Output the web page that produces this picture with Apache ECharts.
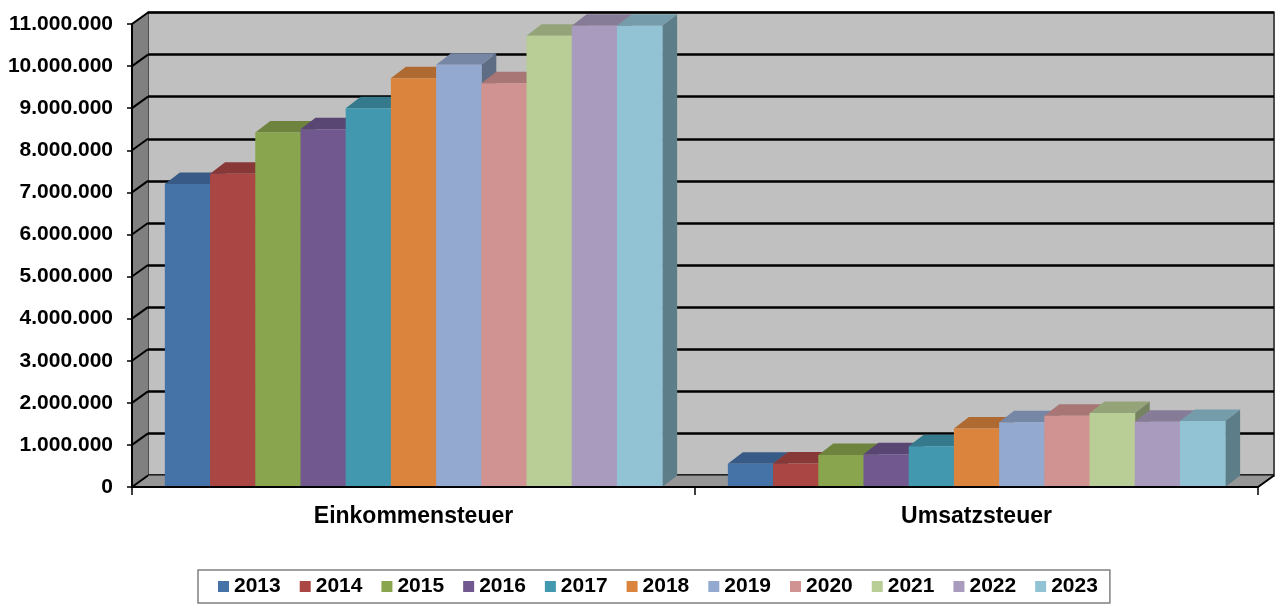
<!DOCTYPE html>
<html>
<head>
<meta charset="utf-8">
<script src="https://cdn.jsdelivr.net/npm/echarts@6/dist/echarts.min.js"></script>
<style>
html, body { margin: 0; padding: 0; background: #fff; }
#chart { width: 1275px; height: 608px; }
</style>
</head>
<body>
<div id="chart"></div>
<script>
// Daten
var categories = ['Einkommensteuer', 'Umsatzsteuer'];
var years = ['2013', '2014', '2015', '2016', '2017', '2018', '2019', '2020', '2021', '2022', '2023'];
var einkommensteuer = [7200000, 7440000, 8420000, 8500000, 9000000, 9710000, 10030000, 9590000, 10720000, 10960000, 10960000];
var umsatzsteuer = [550000, 560000, 760000, 780000, 970000, 1390000, 1540000, 1690000, 1760000, 1550000, 1570000];
var yTicks = [0, 1000000, 2000000, 3000000, 4000000, 5000000, 6000000, 7000000, 8000000, 9000000, 10000000, 11000000];

var colors = ['#4572A7', '#AA4643', '#89A54E', '#71588F', '#4198AF', '#DB843D',
              '#93A9CF', '#D19392', '#B9CD96', '#A99BBD', '#92C3D4'];

var FONT = 'Arial, "Liberation Sans", sans-serif';
// Tiefe der Wände / Säulen
var DX = 16, DY = -11.5;
var BDX = 15, BDY = -11.5;

function shade(hex, f) {
  var n = parseInt(hex.slice(1), 16);
  var r = Math.round(((n >> 16) & 255) * f);
  var g = Math.round(((n >> 8) & 255) * f);
  var b = Math.round((n & 255) * f);
  return 'rgb(' + r + ',' + g + ',' + b + ')';
}

function fmt(v) {
  return String(v).replace(/\B(?=(\d{3})+(?!\d))/g, '.');
}

var myChart = echarts.init(document.getElementById('chart'));

// Seitenwand + Boden
function wallRenderer(params, api) {
  var cs = params.coordSys;
  var l = cs.x, r = cs.x + cs.width, t = cs.y, b = cs.y + cs.height;
  var children = [
    {type: 'polygon', shape: {points: [[l, t], [l + DX, t + DY], [l + DX, b + DY], [l, b]]}, style: {fill: '#808080'}},
    {type: 'polygon', shape: {points: [[l, b], [l + DX, b + DY], [r + DX, b + DY], [r, b]]}, style: {fill: '#969696'}},
    {type: 'line', shape: {x1: r, y1: b, x2: r + DX, y2: b + DY}, style: {stroke: '#000', lineWidth: 2}}
  ];
  yTicks.forEach(function (v) {
    var p = api.coord([0, v]);
    children.push({type: 'line', shape: {x1: l, y1: p[1], x2: l + DX, y2: p[1] + DY}, style: {stroke: '#000', lineWidth: 2}});
  });
  return {type: 'group', children: children};
}

function barRenderer(idx) {
  return function (params, api) {
    var cat = api.value(0), v = api.value(1);
    var base = api.coord([cat, 0]);
    var top = api.coord([cat, v]);
    var band = api.size([1, 0])[0];
    var bw = band * 0.0803;
    var x0 = base[0] - bw * years.length / 2 + idx * bw;
    var x1 = x0 + bw;
    var c = colors[idx];
    return {
      type: 'group',
      children: [
        {type: 'polygon', shape: {points: [[x1, top[1]], [x1 + BDX, top[1] + BDY], [x1 + BDX, base[1] + BDY], [x1, base[1]]]}, style: {fill: shade(c, 0.64)}},
        {type: 'polygon', shape: {points: [[x0, top[1]], [x0 + BDX, top[1] + BDY], [x1 + BDX, top[1] + BDY], [x1, top[1]]]}, style: {fill: shade(c, 0.8)}},
        {type: 'rect', shape: {x: x0, y: top[1], width: bw + 0.5, height: base[1] - top[1]}, style: {fill: c}}
      ]
    };
  };
}

var series = [{
  name: 'walls',
  type: 'custom',
  xAxisIndex: 0,
  yAxisIndex: 0,
  z: 1,
  silent: true,
  renderItem: wallRenderer,
  data: [[0, 0]]
}];

years.forEach(function (y, i) {
  series.push({
    name: y,
    type: 'custom',
    xAxisIndex: 0,
    yAxisIndex: 0,
    z: 2,
    itemStyle: {color: colors[i]},
    renderItem: barRenderer(i),
    encode: {x: 0, y: 1},
    data: [[0, einkommensteuer[i]], [1, umsatzsteuer[i]]]
  });
});

var option = {
  animation: false,
  color: colors,
  grid: [
    {left: 132, right: 17, top: 24, bottom: 121},
    {left: 148, right: 1, top: 12.5, bottom: 132.5, show: true, backgroundColor: '#C0C0C0', borderColor: '#4d4d4d', borderWidth: 2}
  ],
  legend: {
    data: years,
    left: 198,
    top: 570,
    padding: [6, 12, 6, 20],
    itemWidth: 11,
    itemHeight: 11,
    itemGap: 19,
    icon: 'rect',
    borderColor: '#808080',
    borderWidth: 1.5,
    textStyle: {color: '#000', fontSize: 21, fontWeight: 'bold', fontFamily: FONT}
  },
  xAxis: [
    {
      type: 'category',
      gridIndex: 0,
      data: categories,
      z: 10,
      axisLine: {lineStyle: {color: '#000', width: 2}},
      axisTick: {show: true, length: 8, lineStyle: {color: '#000', width: 1.5}},
      axisLabel: {color: '#000', fontSize: 23, fontWeight: 'bold', fontFamily: FONT, margin: 18}
    },
    {type: 'category', gridIndex: 1, data: categories, show: false}
  ],
  yAxis: [
    {
      type: 'value',
      gridIndex: 0,
      min: 0,
      max: 11000000,
      interval: 1000000,
      z: 10,
      axisLine: {show: true, lineStyle: {color: '#000', width: 2}},
      axisTick: {show: true, length: 5, lineStyle: {color: '#000', width: 1.5}},
      splitLine: {show: false},
      axisLabel: {color: '#000', fontSize: 21, fontWeight: 'bold', fontFamily: FONT, margin: 19, formatter: fmt}
    },
    {
      type: 'value',
      gridIndex: 1,
      min: 0,
      max: 11000000,
      interval: 1000000,
      axisLine: {show: false},
      axisTick: {show: false},
      axisLabel: {show: false},
      splitLine: {show: true, lineStyle: {color: '#000', width: 2.5}}
    }
  ],
  series: series
};

myChart.setOption(option);
</script>
</body>
</html>
